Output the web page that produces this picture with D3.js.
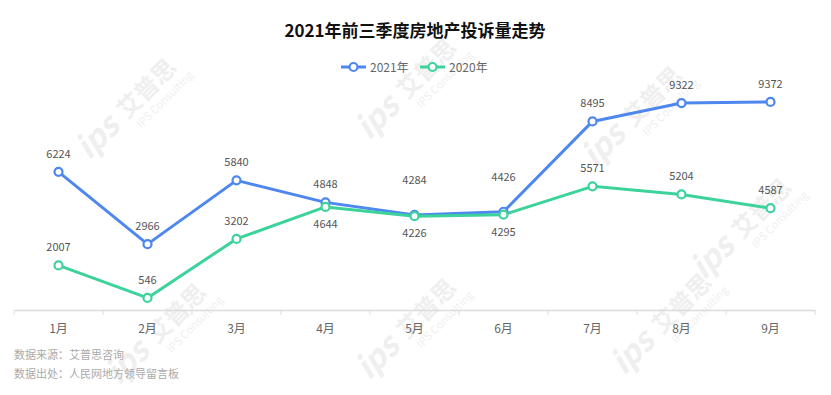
<!DOCTYPE html>
<html><head><meta charset="utf-8">
<script src="https://cdn.jsdelivr.net/npm/d3@7/dist/d3.min.js"></script>
<style>
html,body{margin:0;padding:0;background:#fff;}
svg{display:block;font-family:"Microsoft YaHei","Noto Sans CJK SC",sans-serif;}
</style></head>
<body>
<svg id="c" width="831" height="395"></svg>
<script>
const categories = ["1月","2月","3月","4月","5月","6月","7月","8月","9月"];
const values2021 = [6224,2966,5840,4848,4284,4426,8495,9322,9372];
const values2020 = [2007,546,3202,4644,4226,4295,5571,5204,4587];
const labelPlace2021 = ["top","top","top","top","high","high","top","top","top"];
const labelPlace2020 = ["top","top","top","bottom","bottom","bottom","top","top","top"];
const seriesNames = ["2021年","2020年"];
const yDomain = [0,10000];
const title = "2021年前三季度房地产投诉量走势";
const sourceLines = ["数据来源：艾普思咨询","数据出处：人民网地方领导留言板"];

const svg = d3.select("#c");
const colors = ["#4d87ef","#3cd39b"];

// watermarks
const wm = svg.append("g").attr("class","watermarks");
const wmPos = [[130,120],[410,100],[636,128],[745,240],[160,345],[410,340],[665,335]];
wmPos.forEach(([x,y])=>{
  const g = wm.append("g").attr("transform",`translate(${x},${y}) rotate(-45)`);
  g.append("text").attr("x",-58).attr("y",0).attr("font-size",32).attr("font-weight","bold")
   .attr("font-style","italic").attr("fill","#efefef").text("ips");
  g.append("text").attr("x",-2).attr("y",-2).attr("font-size",24).attr("font-weight","bold")
   .attr("fill","#efefef").text("艾普思");
  g.append("text").attr("x",2).attr("y",14).attr("font-size",11)
   .attr("fill","#f0f0f0").text("IPS Consulting");
});

// title
svg.append("text").attr("x",415).attr("y",37).attr("text-anchor","middle")
  .attr("font-size",17).attr("font-weight","bold").attr("fill","#111").text(title);

// scales
const x = d3.scaleBand().domain(categories).range([14,815]);
const y = d3.scaleLinear().domain(yDomain).range([310,88]);
const cx = d => x(d) + x.bandwidth()/2;

// axis
const axis = d3.axisBottom(x).tickSize(0).tickPadding(14);
const ax = svg.append("g").attr("transform","translate(0,310)").call(axis);
ax.select(".domain").attr("stroke","#dcdcdc").attr("stroke-width",1.5);
ax.selectAll("text").attr("font-size",12).attr("fill","#666")
  .attr("font-family","'Microsoft YaHei','Noto Sans CJK SC',sans-serif");
// boundary ticks
const bounds = categories.map(c=>x(c)).concat([x.range()[1]]);
svg.append("g").selectAll("line").data(bounds).join("line")
  .attr("x1",d=>d).attr("x2",d=>d).attr("y1",310).attr("y2",315)
  .attr("stroke","#dcdcdc").attr("stroke-width",1);

// legend
const legend = svg.append("g");
const legendItems = [{x:341,name:seriesNames[0],c:colors[0]},{x:420,name:seriesNames[1],c:colors[1]}];
legendItems.forEach(it=>{
  legend.append("line").attr("x1",it.x).attr("x2",it.x+25).attr("y1",67).attr("y2",67)
    .attr("stroke",it.c).attr("stroke-width",3);
  legend.append("circle").attr("cx",it.x+12.5).attr("cy",67).attr("r",4)
    .attr("fill","#fff").attr("stroke",it.c).attr("stroke-width",2.2);
  legend.append("text").attr("x",it.x+29).attr("y",71.5).attr("font-size",12)
    .attr("fill","#666").text(it.name);
});

// series
const series = [
  {vals:values2021, place:labelPlace2021, c:colors[0]},
  {vals:values2020, place:labelPlace2020, c:colors[1]}
];
const line = d3.line().x((d,i)=>cx(categories[i])).y(d=>y(d));
series.forEach(s=>{
  svg.append("path").datum(s.vals).attr("d",line).attr("fill","none")
    .attr("stroke",s.c).attr("stroke-width",3).attr("stroke-linejoin","round");
});
series.forEach(s=>{
  svg.append("g").selectAll("circle").data(s.vals).join("circle")
    .attr("cx",(d,i)=>cx(categories[i])).attr("cy",d=>y(d)).attr("r",4)
    .attr("fill","#fff").attr("stroke",s.c).attr("stroke-width",2.2);
});
series.forEach(s=>{
  svg.append("g").selectAll("text").data(s.vals).join("text")
    .attr("x",(d,i)=>cx(categories[i]))
    .attr("y",(d,i)=>{
      const p = s.place[i];
      const off = p==="top" ? -18 : p==="high" ? -35 : 17;
      return y(d)+off+4;
    })
    .attr("text-anchor","middle").attr("font-size",11).attr("fill","#555")
    .attr("font-family","'Microsoft YaHei','Noto Sans CJK SC',sans-serif")
    .text(d=>d);
});

// source
sourceLines.forEach((t,i)=>{
  svg.append("text").attr("x",14).attr("y",359+i*19).attr("font-size",11)
    .attr("fill","#aaa").text(t);
});
</script>
</body></html>
